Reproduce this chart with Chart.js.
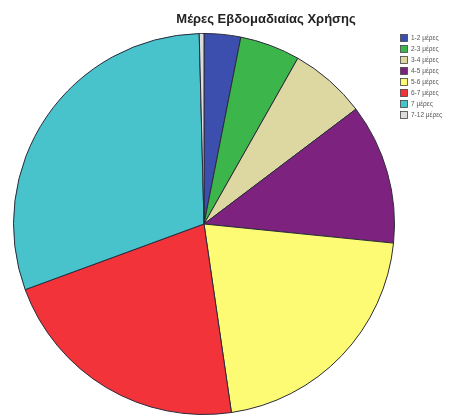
<!DOCTYPE html>
<html>
<head>
<meta charset="utf-8">
<script src="https://cdn.jsdelivr.net/npm/chart.js@4.4.1/dist/chart.umd.min.js"></script>
<style>
  html, body { margin: 0; padding: 0; background: #ffffff; }
  #wrap { width: 457px; height: 417px; position: relative; }
</style>
</head>
<body>
<div id="wrap"><canvas id="c" width="457" height="417"></canvas></div>
<script>
// Weekly usage days, share of respondents (%)
const categories = ['1-2 μέρες', '2-3 μέρες', '3-4 μέρες', '4-5 μέρες', '5-6 μέρες', '6-7 μέρες', '7 μέρες', '7-12 μέρες'];
const shares = [3.1, 5.1, 6.5, 11.9, 21.1, 21.7, 30.2, 0.4];
const sliceColors = ['#3c4fae', '#3cb64a', '#ddd7a2', '#7d237f', '#fdfb74', '#f2333a', '#48c3cb', '#dcdcdc'];
const chartTitle = 'Μέρες Εβδομαδιαίας Χρήσης';

// Title and a compact legend box drawn at the top right
const decorations = {
  id: 'decorations',
  afterDraw(chart) {
    const ctx = chart.ctx;
    ctx.save();
    ctx.fillStyle = '#222';
    ctx.font = 'bold 13px "Liberation Sans", Arial, sans-serif';
    ctx.textAlign = 'center';
    ctx.textBaseline = 'middle';
    ctx.fillText(chartTitle, 266, 19);

    const labels = chart.data.labels;
    const colors = chart.data.datasets[0].backgroundColor;
    ctx.font = '6.5px "Liberation Sans", Arial, sans-serif';
    ctx.textAlign = 'left';
    labels.forEach((lab, i) => {
      const y = 38 + i * 11;
      ctx.fillStyle = colors[i];
      ctx.fillRect(400.5, y - 3.5, 7, 7);
      ctx.strokeStyle = '#444';
      ctx.lineWidth = 0.8;
      ctx.strokeRect(400.5, y - 3.5, 7, 7);
      ctx.fillStyle = '#555';
      ctx.fillText(lab, 411, y + 0.5);
    });
    ctx.restore();
  }
};

new Chart(document.getElementById('c'), {
  type: 'pie',
  data: {
    labels: categories,
    datasets: [{
      data: shares,
      backgroundColor: sliceColors,
      borderColor: '#2a2a3a',
      borderWidth: 1
    }]
  },
  options: {
    responsive: false,
    animation: false,
    layout: { padding: { left: 13, right: 62, top: 33, bottom: 2 } },
    plugins: {
      legend: { display: false },
      title: { display: false },
      tooltip: { enabled: false }
    }
  },
  plugins: [decorations]
});
</script>
</body>
</html>
